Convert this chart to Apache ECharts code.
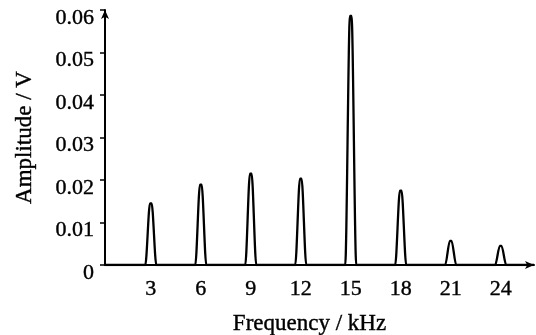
<!DOCTYPE html>
<html>
<head>
<meta charset="utf-8">
<script src="https://cdn.jsdelivr.net/npm/echarts@6/dist/echarts.min.js"></script>
<style>
  html, body { margin: 0; padding: 0; background: #fff; }
  #chart { width: 536px; height: 335px; }
</style>
</head>
<body>
<div id="chart"></div>
<script>
// peak centres (kHz) and peak amplitudes (V)
const peakFreqs = [3, 6, 9, 12, 15, 18, 21, 24];
const peakAmps = [0.0145, 0.0189, 0.0215, 0.0203, 0.0586, 0.0175, 0.0057, 0.0045];
const halfBase = 0.33; // half-width of a peak at the baseline, kHz
const halfTop = 0.05;  // half-width of the rounded crest, kHz
const xTicks = [3, 6, 9, 12, 15, 18, 21, 24];
const xMin = 0.25;
const xMax = 26;

const spectrum = [[xMin, 0]];
peakFreqs.forEach((f, i) => {
  const h = peakAmps[i];
  spectrum.push([f - halfBase, 0], [f - halfTop, h], [f + halfTop, h], [f + halfBase, 0]);
});
spectrum.push([xMax, 0]);

const font = "'Liberation Serif', 'DejaVu Serif', serif";
// a thin outline makes the type look as heavy as the scanned original
const ink = { fontFamily: font, color: "#000", textBorderColor: "#000", textBorderWidth: 0.4 };
const chart = echarts.init(document.getElementById("chart"), null, { renderer: "canvas" });

chart.setOption({
  animation: false,
  backgroundColor: "#fff",
  textStyle: { fontFamily: font, color: "#000" },
  grid: { left: 105, right: 2, top: 10, bottom: 70, outerBoundsMode: "none", containLabel: false },
  xAxis: {
    type: "value",
    min: xMin,
    max: xMax,
    name: "Frequency / kHz",
    nameLocation: "middle",
    nameGap: 47,
    nameTextStyle: Object.assign({ fontSize: 23, padding: [0, 20, 0, 0] }, ink),
    axisLine: { lineStyle: { color: "#000", width: 2 }, symbol: ["none", "arrow"], symbolSize: [6, 9] },
    axisTick: { show: false },
    splitLine: { show: false },
    axisLabel: Object.assign({ customValues: xTicks, fontSize: 22, margin: 13 }, ink)
  },
  yAxis: {
    type: "value",
    min: 0,
    max: 0.06,
    interval: 0.01,
    name: "Amplitude / V",
    nameLocation: "middle",
    nameGap: 69,
    nameTextStyle: Object.assign({ fontSize: 23 }, ink),
    axisLine: { show: true, lineStyle: { color: "#000", width: 2 }, symbol: ["none", "arrow"], symbolSize: [6, 9] },
    axisTick: { show: true, length: 5, lineStyle: { color: "#000", width: 1.5 } },
    splitLine: { show: false },
    axisLabel: Object.assign({ fontSize: 22, margin: 11, verticalAlign: "top", lineHeight: 16 }, ink)
  },
  series: [{
    type: "line",
    data: spectrum,
    symbol: "none",
    smooth: 0.3,
    smoothMonotone: "x",
    lineStyle: { color: "#000", width: 2.3 }
  }]
});
</script>
</body>
</html>
